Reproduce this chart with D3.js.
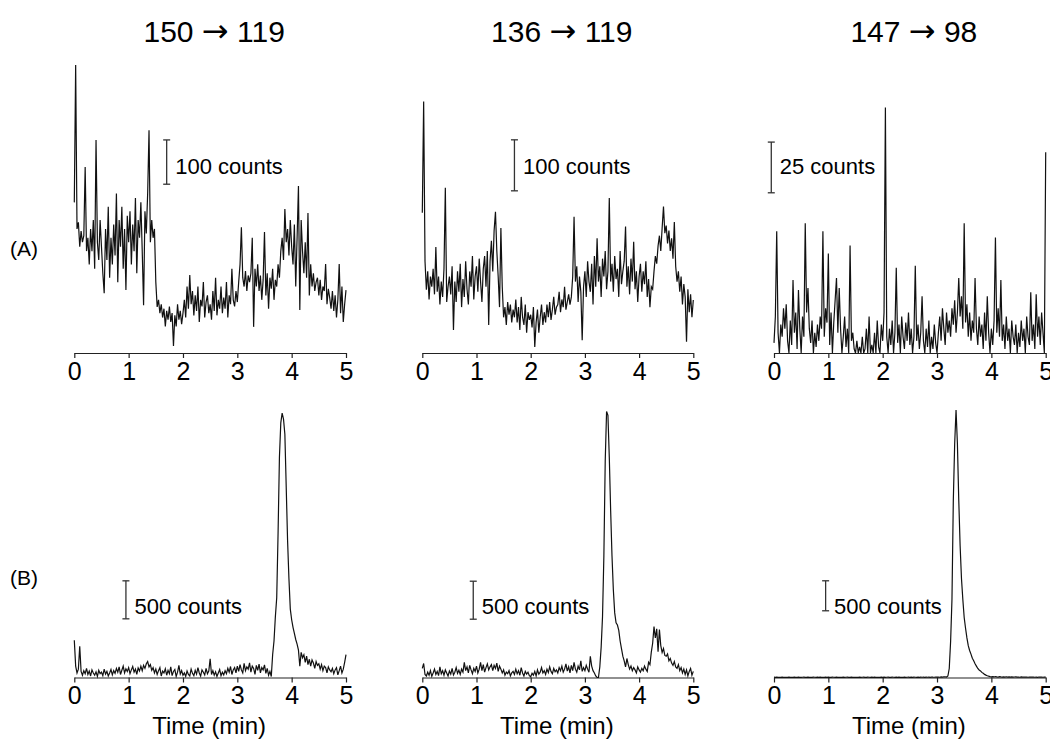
<!DOCTYPE html>
<html>
<head>
<meta charset="utf-8">
<script src="https://cdn.jsdelivr.net/npm/d3@7"></script>
<style>
  body { margin: 0; background: #fff; }
  svg { display: block; font-family: "Liberation Sans", Arial, sans-serif; }
</style>
</head>
<body>
<svg width="1050" height="745"></svg>
<script>
// transitions (column titles) and row labels
var transitions = [['150', '119'], ['136', '119'], ['147', '98']];
var rowLabels = ['(A)', '(B)'];
var timeTicks = [0, 1, 2, 3, 4, 5];
var sampleStep = 0.025; // min between points
var barCounts = [100, 100, 25, 500, 500, 500];

// row A: blank / low level traces (counts)
var a150_119 = [
  340, 650, 280, 295, 240, 275, 250, 265, 420, 230,
  260, 200, 280, 230, 300, 190, 481, 250, 210, 300,
  240, 180, 135, 280, 210, 330, 170, 260, 200, 290,
  220, 360, 160, 300, 240, 330, 190, 280, 142, 310,
  250, 320, 200, 290, 230, 350, 180, 300, 260, 340,
  230, 108, 320, 270, 360, 503, 250, 300, 260, 280,
  160, 104, 120, 90, 110, 80, 100, 60, 95, 75,
  105, 70, 90, 16, 85, 60, 110, 75, 95, 65,
  90, 120, 80, 150, 100, 176, 110, 140, 85, 130,
  95, 150, 70, 120, 105, 160, 80, 115, 130, 90,
  110, 75, 140, 95, 170, 85, 120, 100, 150, 90,
  125, 100, 160, 80, 130, 110, 190, 120, 105, 140,
  115, 160, 200, 284, 170, 150, 185, 140, 175, 160,
  180, 260, 59, 190, 150, 200, 140, 175, 120, 165,
  273, 130, 180, 100, 170, 145, 190, 120, 165, 150,
  200, 170, 230, 260, 210, 325, 250, 280, 220, 300,
  240, 200, 290, 150, 260, 377, 97, 300, 230, 180,
  250, 170, 316, 130, 200, 150, 180, 140, 160, 170,
  130, 165, 120, 150, 140, 201, 110, 145, 125, 100,
  140, 95, 130, 80, 120, 201, 90, 150, 70, 110, 142
];
var a136_119 = [
  275, 493, 180, 124, 160, 105, 150, 130, 165, 115,
  208, 120, 150, 95, 140, 110, 165, 324, 100, 130,
  150, 115, 170, 45, 140, 100, 160, 120, 175, 90,
  145, 110, 180, 125, 95, 160, 130, 190, 105, 150,
  170, 120, 185, 140, 100, 165, 190, 130, 200, 55,
  180, 220, 160, 240, 277, 200, 150, 90, 245, 130,
  70, 90, 55, 100, 75, 95, 60, 85, 70, 105,
  60, 90, 45, 110, 70, 55, 95, 40, 80, 65,
  75, 50, 90, 12, 60, 85, 40, 70, 95, 55,
  80, 60, 95, 70, 100, 65, 85, 110, 75, 90,
  95, 120, 80, 105, 90, 130, 85, 100, 115, 95,
  110, 150, 267, 140, 170, 100, 150, 120, 25, 130,
  160, 110, 180, 140, 120, 175, 95, 190, 130, 225,
  140, 170, 110, 185, 150, 200, 125, 160, 304, 140,
  175, 120, 190, 145, 165, 110, 200, 135, 160, 180,
  248, 130, 170, 115, 185, 140, 218, 125, 160, 100,
  150, 175, 120, 160, 135, 180, 110, 145, 90, 130,
  125, 160, 190, 175, 210, 230, 200, 245, 287, 235,
  250, 215, 240, 200, 225, 185, 257, 170, 140, 160,
  120, 150, 95, 135, 110, 22, 125, 80, 115, 70, 104
];
var a147_98 = [
  5, 18, 60, 10, 0, 14, 8, 22, 12, 24,
  6, 0, 16, 4, 36, 10, 20, 2, 31, 12,
  0, 18, 8, 64, 20, 32, 12, 5, 16, 0,
  10, 3, 14, 6, 18, 12, 60, 8, 22, 15,
  49, 4, 20, 0, 15, 26, 37, 10, 32, 12,
  0, 8, 18, 3, 12, 0, 53, 6, 10, 2,
  0, 6, 0, 3, 0, 8, 0, 2, 12, 0,
  18, 0, 4, 0, 10, 0, 16, 3, 0, 14,
  6, 20, 121, 8, 0, 12, 4, 16, 0, 10,
  42, 5, 14, 0, 18, 8, 2, 15, 6, 20,
  4, 12, 0, 8, 43, 6, 14, 2, 10, 28,
  6, 0, 12, 3, 16, 0, 8, 2, 14, 5,
  0, 10, 18, 6, 22, 12, 4, 20, 10, 16,
  8, 22, 14, 26, 10, 20, 37, 18, 28, 12,
  64, 15, 24, 8, 20, 6, 16, 10, 37, 12,
  4, 18, 8, 14, 2, 20, 6, 28, 10, 0,
  12, 4, 16, 57, 10, 22, 8, 36, 6, 14,
  2, 18, 6, 12, 0, 16, 8, 4, 14, 0,
  10, 3, 16, 6, 12, 0, 18, 8, 4, 30,
  6, 14, 2, 29, 8, 18, 4, 20, 10, 0, 99
];

// row B: spiked samples (counts)
var b150_119 = [
  490, 150, 60, 110, 410, 80, 30, 90, 50, 120,
  40, 85, 20, 100, 60, 30, 75, 15, 95, 50,
  70, 25, 110, 45, 80, 20, 60, 105, 35, 90,
  55, 120, 70, 140, 40, 95, 150, 60, 115, 80,
  130, 50, 100, 145, 70, 110, 40, 125, 85, 150,
  90, 160, 120, 180, 210, 140, 170, 95, 130, 60,
  110, 40, 90, 130, 20, 85, 60, 115, 30, 95,
  50, 140, 25, 80, 105, 15, 70, 160, 45, 90,
  30, 60, 15, 85, 40, 20, 110, 55, 25, 95,
  45, 130, 60, 20, 100, 70, 35, 120, 50, 85,
  246, 40, 90, 30, 75, 15, 60, 105, 25, 70,
  35, 90, 50, 120, 70, 145, 40, 100, 130, 60,
  150, 80, 170, 100, 60, 185, 90, 140, 110, 193,
  70, 150, 120, 40, 160, 95, 175, 60, 130, 100,
  165, 55, 120, 30, 80, 13, 300, 480, 800, 1050,
  1900, 2900, 3350, 3480, 3400, 3200, 2500, 1800, 1300, 900,
  760, 660, 580, 500, 440, 360, 150, 330, 260, 300,
  200, 280, 170, 240, 150, 230, 190, 120, 210, 160,
  180, 110, 170, 90, 150, 130, 60, 140, 100, 75,
  120, 50, 100, 130, 35, 90, 150, 60, 110, 200, 300
];
var b136_119 = [
  120, 184, 40, 20, 70, 30, 90, 15, 60, 110,
  40, 80, 25, 140, 50, 90, 30, 100, 60, 20,
  85, 45, 120, 35, 70, 130, 55, 95, 40, 110,
  70, 200, 90, 140, 60, 160, 100, 50, 120, 80,
  150, 60, 110, 200, 90, 170, 70, 130, 180, 100,
  140, 170, 90, 160, 120, 190, 80, 150, 110, 60,
  100, 30, 70, 50, 90, 20, 60, 80, 40, 110,
  50, 90, 30, 130, 60, 20, 80, 45, 70, 25,
  10, 55, 30, 80, 20, 100, 45, 70, 130, 60,
  90, 40, 110, 65, 140, 80, 50, 120, 75, 100,
  60, 130, 90, 150, 70, 110, 180, 85, 140, 60,
  160, 90, 200, 110, 70, 150, 100, 220, 80, 130,
  90, 160, 110, 70, 280, 150, 90, 60, 20, 0,
  0, 140, 400, 800, 1600, 2850, 3500, 3450, 2900, 2200,
  1600, 1150, 850, 720, 690, 620, 480, 380, 280, 220,
  140, 250, 170, 110, 150, 90, 130, 100, 60, 140,
  100, 70, 120, 90, 150, 110, 80, 200, 170, 333,
  450, 670, 520, 640, 340, 630, 420, 330, 380, 290,
  280, 310, 220, 250, 190, 160, 210, 140, 120, 170,
  90, 130, 60, 110, 40, 100, 20, 80, 120, 30, 80
];
var b147_98 = [
  6, 3, 5, 2, 4, 1, 5, 3, 2, 4,
  3, 5, 2, 4, 1, 6, 3, 2, 5, 3,
  2, 4, 6, 3, 1, 5, 2, 4, 3, 6,
  4, 2, 5, 3, 6, 2, 4, 1, 5, 3,
  5, 3, 2, 6, 4, 2, 5, 3, 1, 4,
  3, 6, 2, 4, 5, 1, 3, 6, 2, 4,
  2, 4, 3, 5, 1, 4, 6, 2, 3, 5,
  4, 2, 5, 3, 6, 2, 4, 3, 1, 5,
  3, 5, 2, 4, 6, 3, 1, 5, 4, 2,
  5, 3, 6, 2, 4, 3, 5, 1, 4, 6,
  3, 5, 2, 6, 4, 3, 5, 2, 6, 4,
  5, 3, 7, 4, 6, 3, 8, 5, 4, 7,
  5, 8, 4, 10, 6, 9, 12, 8, 25, 150,
  600, 1300, 2960, 3900, 4460, 3900, 2960, 2200, 1650, 1300,
  1000, 820, 660, 530, 450, 390, 320, 280, 230, 190,
  150, 125, 110, 85, 70, 52, 40, 30, 22, 15,
  12, 14, 9, 16, 11, 8, 13, 9, 6, 11,
  8, 12, 7, 10, 6, 9, 5, 8, 11, 6,
  7, 4, 9, 6, 8, 5, 7, 4, 6, 8,
  5, 7, 4, 6, 3, 8, 5, 6, 4, 7, 5
];

var traces = [a150_119, a136_119, a147_98, b150_119, b136_119, b147_98];

//////////// LAYOUT ////////////

var svg = d3.select('svg');

// pixel layout of the 3 columns / 2 rows
var colRange = [[74.3, 346], [422.3, 693.3], [774, 1045.7]];
var rowAxisY = [353, 677.5];
var barPx = [44.3, 51, 50.7, 38, 38, 30];          // pixel length of each scale bar
var barAt = [[1.70, 381], [1.70, 318], [-0.05, 79], // [time, counts] of bar foot
             [0.95, 772], [0.94, 767], [0.95, 1112]];
var barTextY = [174, 614];

traces.forEach(function (values, k) {
  var col = k % 3, row = Math.floor(k / 3);
  var axisY = rowAxisY[row];
  var x = d3.scaleLinear().domain([0, 5]).range(colRange[col]);
  var y = d3.scaleLinear().domain([0, barCounts[k]]).range([axisY, axisY - barPx[k]]);

  var g = svg.append('g');

  // x axis
  var axis = g.append('g')
    .attr('transform', 'translate(0,' + axisY + ')')
    .call(d3.axisBottom(x).tickValues(timeTicks).tickSize(5).tickSizeOuter(0).tickPadding(4)
      .tickFormat(d3.format('d')));
  axis.attr('font-family', null).attr('font-size', 25);
  axis.selectAll('path, line').attr('stroke', '#222').attr('stroke-width', 1.2);
  axis.selectAll('text').attr('fill', '#000');

  // trace
  var line = d3.line()
    .x(function (d, i) { return x(i * sampleStep); })
    .y(function (d) { return y(d); });
  g.append('path')
    .datum(values)
    .attr('d', line)
    .attr('fill', 'none')
    .attr('stroke', '#111')
    .attr('stroke-width', 1.2)
    .attr('stroke-linejoin', 'miter');

  // scale bar
  var bx = x(barAt[k][0]), b0 = y(barAt[k][1]), b1 = y(barAt[k][1] + barCounts[k]);
  var bar = g.append('g').attr('stroke', '#333').attr('stroke-width', 1.3);
  bar.append('line').attr('x1', bx).attr('x2', bx).attr('y1', b0).attr('y2', b1);
  bar.append('line').attr('x1', bx - 3.5).attr('x2', bx + 3.5).attr('y1', b0).attr('y2', b0);
  bar.append('line').attr('x1', bx - 3.5).attr('x2', bx + 3.5).attr('y1', b1).attr('y2', b1);
  g.append('text')
    .attr('x', bx + 8.5)
    .attr('y', barTextY[row])
    .attr('font-size', 22)
    .text(barCounts[k] + ' counts');

  // column title / axis title
  var cx = (colRange[col][0] + colRange[col][1]) / 2;
  if (row === 0) {
    var title = g.append('text')
      .attr('x', cx + 4)
      .attr('y', 42)
      .attr('text-anchor', 'middle')
      .attr('font-size', 30);
    title.append('tspan').text(transitions[col][0] + ' ');
    title.append('tspan')
      .attr('font-family', '"DejaVu Sans", sans-serif')
      .attr('font-size', 32)
      .text('\u2192');
    title.append('tspan').text(' ' + transitions[col][1]);
  } else {
    g.append('text')
      .attr('x', cx - 1)
      .attr('y', 734)
      .attr('text-anchor', 'middle')
      .attr('font-size', 24)
      .text('Time (min)');
  }
});

// row labels
svg.selectAll('text.row')
  .data(rowLabels)
  .enter()
  .append('text')
  .attr('class', 'row')
  .attr('x', 10)
  .attr('y', function (d, i) { return [256, 585][i]; })
  .attr('font-size', 21)
  .text(function (d) { return d; });
</script>
</body>
</html>
